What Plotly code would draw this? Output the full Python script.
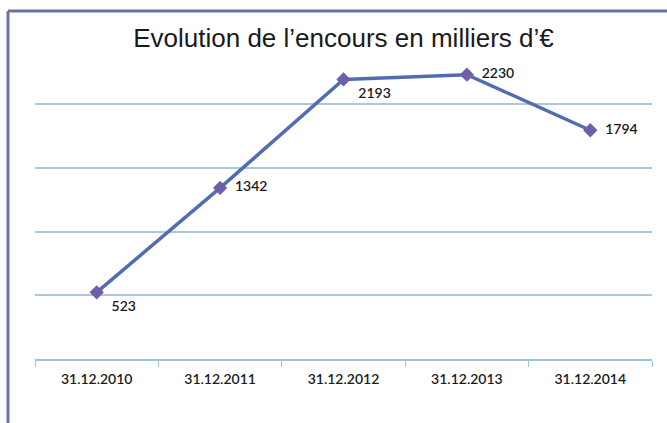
import plotly.graph_objects as go

categories = ["31.12.2010", "31.12.2011", "31.12.2012", "31.12.2013", "31.12.2014"]
values = [523, 1342, 2193, 2230, 1794]
label_positions = ["bottom right", "middle right", "bottom right", "middle right", "middle right"]
title_text = "Evolution de l’encours en milliers d’€"

W, H = 667, 423
ml, mr, mt, mb = 35, 15, 53, 64
pw = W - ml - mr
ph = H - mt - mb

def px(x):
    return (x - ml) / pw

def py(y):
    return 1 - (y - mt) / ph

fig = go.Figure()
fig.add_trace(go.Scatter(
    x=categories, y=values,
    mode="lines+markers+text",
    line=dict(color="#516cb0", width=3.5),
    marker=dict(symbol="diamond", size=11, color="#6d5fab"),
    text=["  " + str(v) for v in values],
    textposition=label_positions,
    textfont=dict(family="Lato", size=14, color="#1a1a1a", weight=600),
    cliponaxis=False,
    showlegend=False,
))

border_color = "#6a72a6"
fig.update_layout(
    width=W, height=H,
    margin=dict(l=ml, r=mr, t=mt, b=mb),
    paper_bgcolor="white", plot_bgcolor="white",
    title=dict(text=title_text, x=0.5, xref="paper", xanchor="center",
               y=1 - 38 / H, yanchor="middle",
               font=dict(family="Liberation Sans", size=26, color="#1a1a1a")),
    xaxis=dict(
        type="category", range=[-0.5, 4.5],
        showgrid=False, showline=True, linecolor="#9cc3dc", linewidth=1.5,
        ticks="outside", tickson="boundaries", ticklen=6, tickcolor="#9cc3dc",
        ticklabelstandoff=6,
        tickfont=dict(family="Lato", size=14, color="#1a1a1a", weight=600),
        zeroline=False,
    ),
    yaxis=dict(
        range=[0, 2400], dtick=500, showticklabels=False,
        showgrid=True, gridcolor="#a9c8dc", gridwidth=1.5,
        zeroline=False, showline=False, ticks="",
    ),
    shapes=[
        dict(type="line", xref="paper", yref="paper",
             x0=px(8), x1=px(8), y0=py(11), y1=py(430),
             line=dict(color=border_color, width=3)),
        dict(type="line", xref="paper", yref="paper",
             x0=px(8), x1=px(680), y0=py(11), y1=py(11),
             line=dict(color=border_color, width=3)),
    ],
)

fig.write_html("out.html", config={"displayModeBar": False},
               post_script="document.body.style.margin='0';")
